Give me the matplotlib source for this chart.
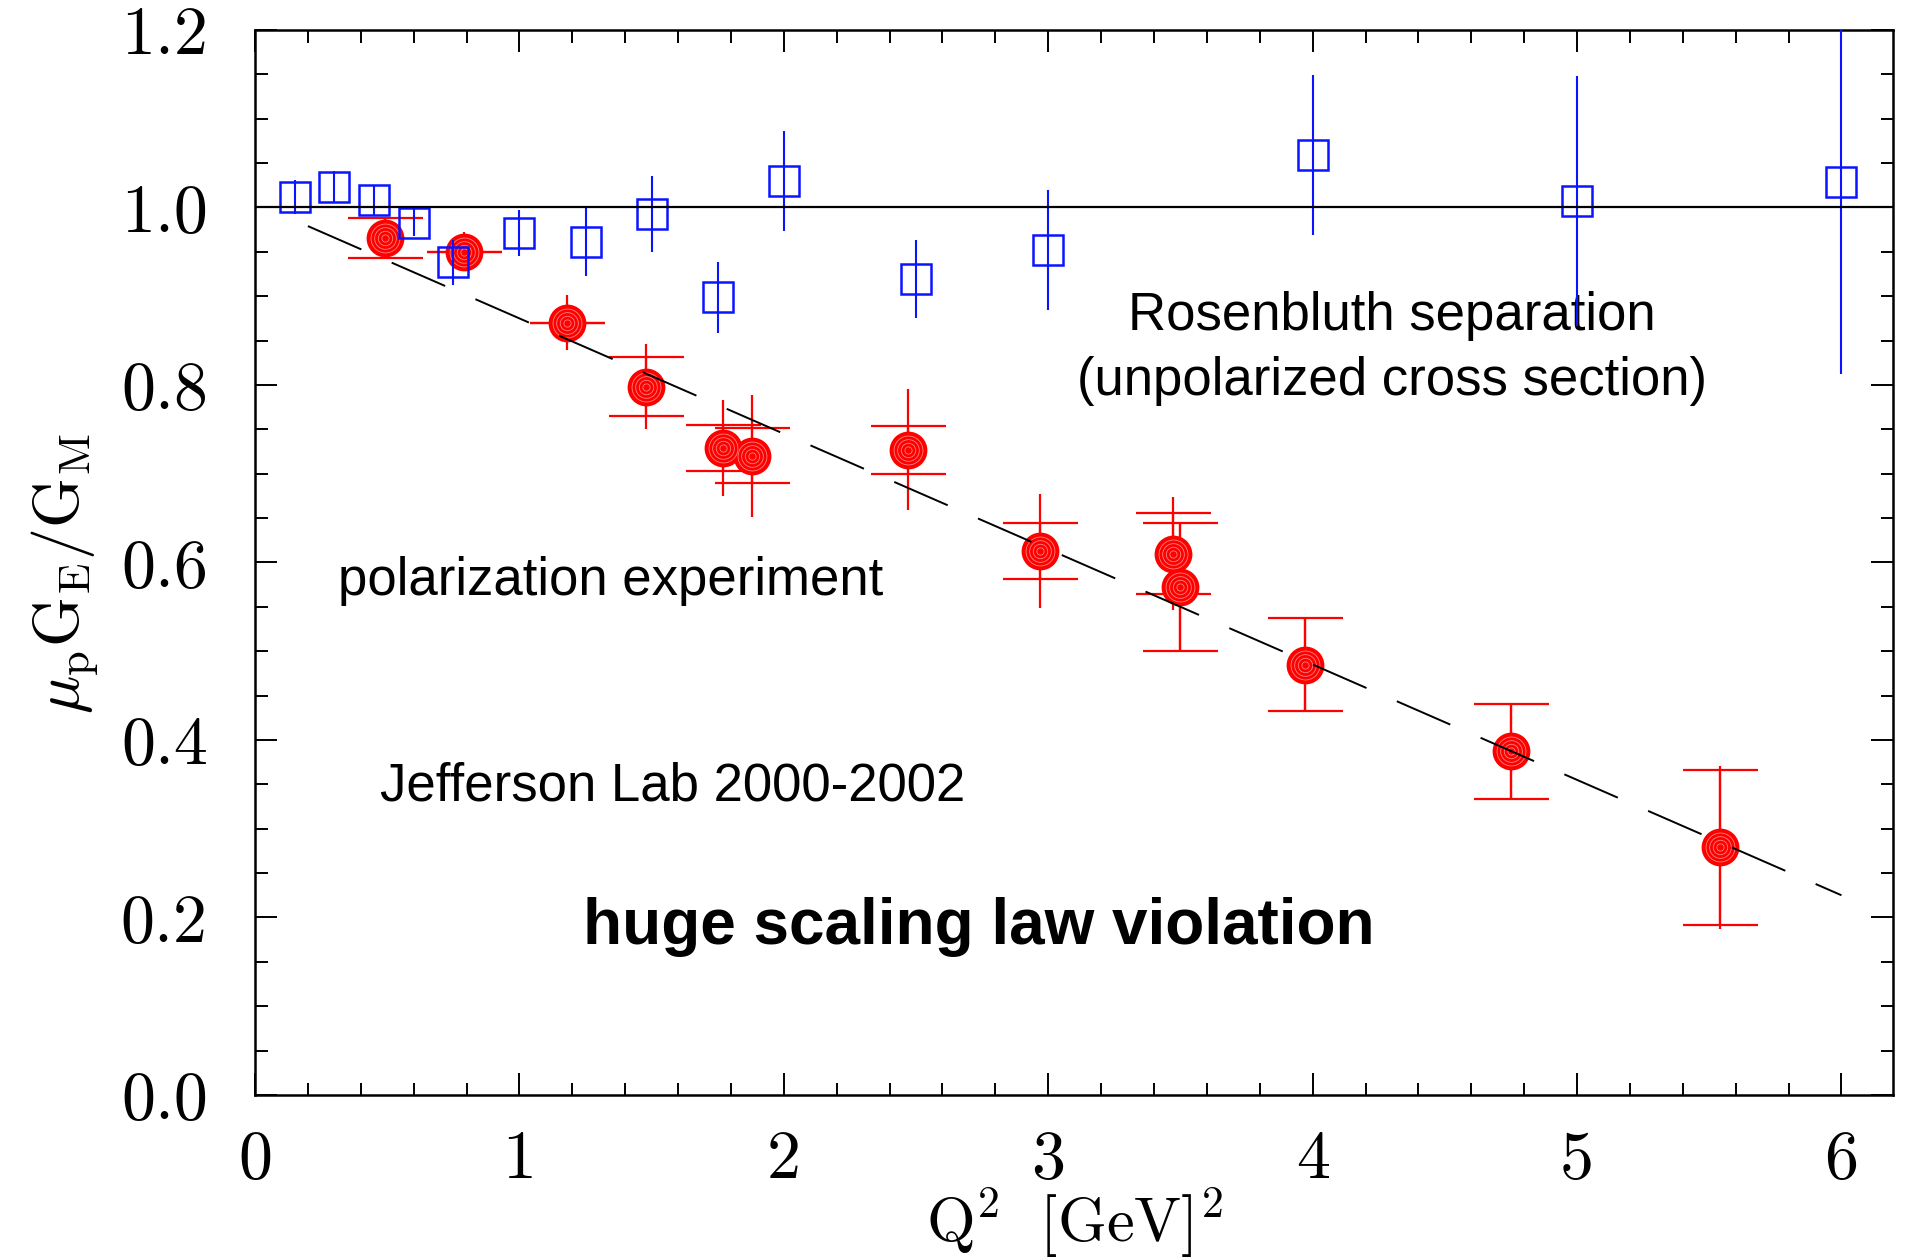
import matplotlib
matplotlib.use("Agg")
import matplotlib.pyplot as plt
from matplotlib.ticker import MultipleLocator, FixedLocator

plt.rcParams["mathtext.fontset"] = "cm"
plt.rcParams["axes.formatter.use_mathtext"] = True

# Rosenbluth separation (unpolarized cross section)
ros_q2 = [0.15, 0.30, 0.45, 0.60, 0.75, 1.00, 1.25, 1.50, 1.75, 2.00, 2.50, 3.00, 4.00, 5.00, 6.00]
ros_ratio = [1.012, 1.023, 1.008, 0.983, 0.938, 0.971, 0.961, 0.993, 0.899, 1.030, 0.919, 0.952, 1.059, 1.007, 1.029]
ros_err = [0.019, 0.018, 0.016, 0.015, 0.025, 0.026, 0.038, 0.043, 0.040, 0.056, 0.044, 0.068, 0.090, 0.141, 0.217]

# Polarization transfer, Jefferson Lab 2000-2002
pol_q2 = [0.49, 0.79, 1.18, 1.48, 1.77, 1.88, 2.47, 2.97, 3.47, 3.50, 3.97, 4.75, 5.54]
pol_ratio = [0.966, 0.950, 0.870, 0.798, 0.729, 0.720, 0.727, 0.613, 0.610, 0.572, 0.485, 0.387, 0.279]
pol_stat = [0.0225, 0.0, 0.0, 0.033, 0.026, 0.031, 0.027, 0.032, 0.046, 0.072, 0.052, 0.053, 0.087]
pol_tot = [0.0225, 0.022, 0.031, 0.048, 0.054, 0.069, 0.068, 0.064, 0.064, 0.072, 0.052, 0.053, 0.092]

# Linear fit to the polarization data (end points)
fit_q2 = [0.20, 6.00]
fit_ratio = [0.979, 0.225]

x_ticks = [0, 1, 2, 3, 4, 5, 6]
x_ticklabels = ["0", "1", "2", "3", "4", "5", "6"]
y_ticks = [0.0, 0.2, 0.4, 0.6, 0.8, 1.0, 1.2]
y_ticklabels = ["0.0", "0.2", "0.4", "0.6", "0.8", "1.0", "1.2"]

fig = plt.figure(figsize=(19.06, 12.59), dpi=100)
ax = fig.add_axes([0.1338, 0.1303, 0.8594, 0.8459])
ax.set_xlim(0, 6.195)
ax.set_ylim(0, 1.2)

red = "#ff0000"
blue = "#0a14ff"

# polarization points: total error (no caps) and statistical error (capped)
ax.errorbar(pol_q2, pol_ratio, yerr=pol_tot, fmt="none", ecolor=red,
            elinewidth=1.6, capsize=0, zorder=3)
ax.errorbar(pol_q2, pol_ratio, yerr=pol_stat, fmt="none", ecolor=red,
            elinewidth=1.6, capsize=27, capthick=1.6, zorder=3)
ax.plot(pol_q2, pol_ratio, linestyle="none", marker="o", markersize=26,
        markerfacecolor=red, markeredgecolor=red, markeredgewidth=1.2, zorder=4)
for frac in (0.8, 0.6, 0.4, 0.2):
    ax.plot(pol_q2, pol_ratio, linestyle="none", marker="o", markersize=26 * frac,
            markerfacecolor="none", markeredgecolor="#ff8080",
            markeredgewidth=0.6, zorder=4.1)

# Rosenbluth points
ax.errorbar(ros_q2, ros_ratio, yerr=ros_err, fmt="s", markersize=21,
            markerfacecolor="none", markeredgecolor=blue, markeredgewidth=1.8,
            ecolor=blue, elinewidth=1.5, capsize=0, zorder=5)

# reference lines
ax.axhline(1.0, color="black", linewidth=1.6, zorder=6)
ax.plot(fit_q2, fit_ratio, color="black", linewidth=1.4,
        linestyle=(0, (30, 17)), zorder=6)

# axes styling
for side in ("left", "right", "top", "bottom"):
    ax.spines[side].set_linewidth(1.8)
ax.xaxis.set_major_locator(FixedLocator(x_ticks))
ax.yaxis.set_major_locator(FixedLocator(y_ticks))
ax.set_xticklabels(x_ticklabels)
ax.set_yticklabels(y_ticklabels)
ax.xaxis.set_minor_locator(MultipleLocator(0.2))
ax.yaxis.set_minor_locator(MultipleLocator(0.05))
ax.tick_params(which="both", direction="in", top=True, right=True, width=1.4)
ax.tick_params(which="major", length=16)
ax.tick_params(which="minor", length=9)
ax.tick_params(axis="x", which="major", pad=25)
ax.tick_params(axis="y", which="major", pad=34)
for lab in ax.get_xticklabels() + ax.get_yticklabels():
    lab.set_fontfamily("cmr10")
    lab.set_fontsize(49)

xl = ax.set_xlabel(r"$\mathrm{Q^2\ \ [GeV]^2}$", fontsize=45)
xl.set_verticalalignment("center")
ax.xaxis.set_label_coords(0.5, -0.121)
yl = ax.set_ylabel(r"$\mu_{\mathrm{p}}\mathrm{G_E/G_M}$", fontsize=46)
yl.set_verticalalignment("center")
ax.yaxis.set_label_coords(-0.116, 0.49)

# annotations
sans = "Liberation Sans"
ax.text(4.30, 0.878, "Rosenbluth separation", fontsize=38, family=sans,
        ha="center", va="center")
ax.text(4.30, 0.805, "(unpolarized cross section)", fontsize=38, family=sans,
        ha="center", va="center")
ax.text(0.313, 0.579, "polarization experiment", fontsize=38, family=sans,
        ha="left", va="center")
ax.text(0.474, 0.348, "Jefferson Lab 2000-2002", fontsize=38, family=sans,
        ha="left", va="center")
ax.text(2.736, 0.189, "huge scaling law violation", fontsize=46, family=sans,
        fontweight="bold", ha="center", va="center")

fig.savefig("out.png", dpi=100)
